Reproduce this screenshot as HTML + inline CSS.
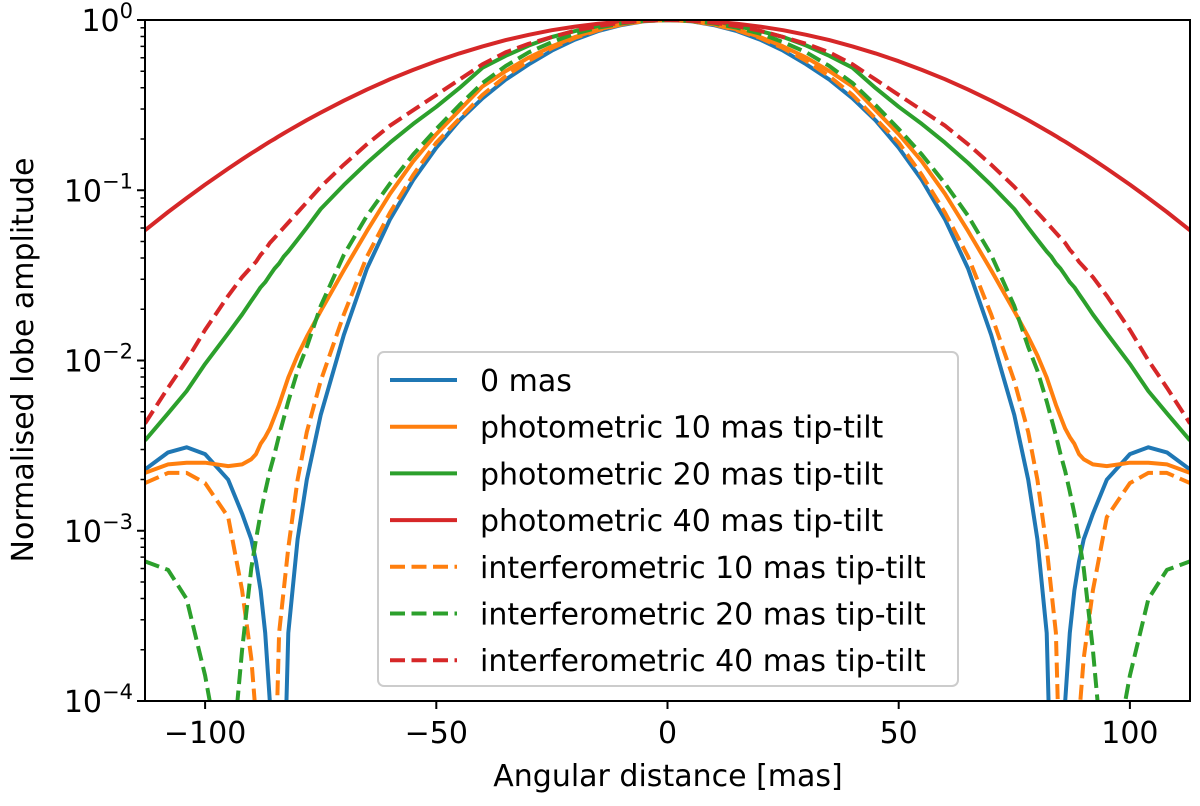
<!DOCTYPE html>
<html><head><meta charset="utf-8"><style>
body{margin:0;background:#fff;}
svg{display:block;font-family:"DejaVu Sans","Liberation Sans",sans-serif;}
</style></head><body>
<svg id="chart" width="1200" height="806"></svg>
<script>
// |x| sample positions (mas); curves are symmetric about 0
const absX = [0,5,10,15,20,25,30,35,40,45,50,55,60,65,70,75,78,80,82,83,84,85,86,87,88,89,90,92,95,100,104,108,113];
// log10 of normalised amplitude
const blue0 = [0,-0.007,-0.03,-0.065,-0.115,-0.18,-0.26,-0.35,-0.46,-0.59,-0.75,-0.94,-1.17,-1.46,-1.85,-2.32,-2.7,-3.05,-3.6,-4.6,-4.6,-4.6,-4.0,-3.6,-3.35,-3.18,-3.05,-2.9,-2.7,-2.55,-2.51,-2.54,-2.64];
const phot10 = [0,-0.006,-0.025,-0.055,-0.1,-0.155,-0.22,-0.3,-0.39,-0.53,-0.67,-0.83,-1.02,-1.24,-1.47,-1.71,-1.86,-1.97,-2.1,-2.18,-2.26,-2.33,-2.4,-2.45,-2.49,-2.55,-2.58,-2.61,-2.62,-2.6,-2.6,-2.61,-2.66];
const phot20 = [0,-0.004,-0.016,-0.036,-0.065,-0.1,-0.15,-0.21,-0.28,-0.4,-0.51,-0.61,-0.72,-0.84,-0.97,-1.11,-1.22,-1.29,-1.36,-1.39,-1.43,-1.46,-1.5,-1.54,-1.57,-1.61,-1.65,-1.73,-1.84,-2.02,-2.18,-2.31,-2.47];
const phot40 = [0,-0.0024,-0.0097,-0.022,-0.039,-0.06,-0.087,-0.118,-0.155,-0.196,-0.242,-0.293,-0.348,-0.409,-0.474,-0.544,-0.588,-0.619,-0.65,-0.666,-0.682,-0.699,-0.715,-0.732,-0.749,-0.766,-0.783,-0.818,-0.873,-0.967,-1.046,-1.128,-1.235];
const intf10 = [0,-0.006,-0.027,-0.06,-0.105,-0.165,-0.24,-0.33,-0.44,-0.58,-0.72,-0.91,-1.13,-1.39,-1.73,-2.12,-2.42,-2.7,-3.1,-3.35,-3.6,-4.6,-4.6,-4.6,-4.6,-4.1,-3.75,-3.35,-2.92,-2.72,-2.66,-2.66,-2.72];
const intf20 = [0,-0.005,-0.02,-0.045,-0.08,-0.13,-0.19,-0.27,-0.37,-0.5,-0.64,-0.79,-0.96,-1.15,-1.38,-1.68,-1.92,-2.06,-2.24,-2.34,-2.44,-2.55,-2.65,-2.77,-2.9,-3.05,-3.22,-3.7,-4.6,-3.85,-3.4,-3.23,-3.18];
const intf40 = [0,-0.004,-0.016,-0.036,-0.063,-0.1,-0.14,-0.19,-0.26,-0.35,-0.44,-0.53,-0.62,-0.73,-0.85,-0.98,-1.07,-1.13,-1.19,-1.22,-1.25,-1.28,-1.31,-1.35,-1.38,-1.42,-1.45,-1.51,-1.62,-1.82,-2.0,-2.16,-2.37];
const xTicks = [-100,-50,0,50,100];
const yTicks = [0,-1,-2,-3,-4];
const legendLabels = ["0 mas","photometric 10 mas tip-tilt","photometric 20 mas tip-tilt","photometric 40 mas tip-tilt","interferometric 10 mas tip-tilt","interferometric 20 mas tip-tilt","interferometric 40 mas tip-tilt"];

const NS="http://www.w3.org/2000/svg";
const svg=document.getElementById('chart');
const L=145,R=1190,T=20,B=701,XMIN=-113,XMAX=113;
const FS=30;
const sx=v=>L+(v-XMIN)/(XMAX-XMIN)*(R-L);
const sy=v=>T+(0-v)/4*(B-T);
function mk(tag,attrs,parent){const e=document.createElementNS(NS,tag);for(const k in attrs)e.setAttribute(k,attrs[k]);(parent||svg).appendChild(e);return e;}

const defs=mk('defs',{});
const cp=mk('clipPath',{id:'clip'},defs);
mk('rect',{x:L,y:T,width:R-L,height:B-T},cp);

const series=[
 {d:blue0,c:'#1f77b4',dash:null,n:'series-0-mas'},
 {d:phot10,c:'#ff7f0e',dash:null,n:'series-photometric-10'},
 {d:phot20,c:'#2ca02c',dash:null,n:'series-photometric-20'},
 {d:phot40,c:'#d62728',dash:null,n:'series-photometric-40'},
 {d:intf10,c:'#ff7f0e',dash:'15,6.5',n:'series-interferometric-10'},
 {d:intf20,c:'#2ca02c',dash:'15,6.5',n:'series-interferometric-20'},
 {d:intf40,c:'#d62728',dash:'15,6.5',n:'series-interferometric-40'}
];
const g=mk('g',{'clip-path':'url(#clip)'});


series.forEach(s=>{
  const pts=[];
  for(let i=absX.length-1;i>=0;i--)pts.push([-absX[i],s.d[i]]);
  for(let i=1;i<absX.length;i++)pts.push([absX[i],s.d[i]]);
  const d=pts.map((p,i)=>(i?'L':'M')+sx(p[0]).toFixed(1)+','+sy(p[1]).toFixed(1)).join('');
  const p=mk('path',{d:d,fill:'none',stroke:s.c,'stroke-width':4,'stroke-linejoin':'round'},g);
  if(s.dash)p.setAttribute('stroke-dasharray',s.dash);
  
  
});

const fr=mk('rect',{x:L,y:T,width:R-L,height:B-T,fill:'none',stroke:'#000','stroke-width':2});



xTicks.forEach(v=>{
  const x=sx(v);
  const t=mk('line',{x1:x,x2:x,y1:B,y2:B+8,stroke:'#000','stroke-width':2});
  
  
  const tx=mk('text',{x:x,y:B+42,'text-anchor':'middle','font-size':FS});
  tx.textContent=v<0?'\u2212'+Math.abs(v):String(v);
  
  
});
yTicks.forEach(v=>{
  const y=sy(v);
  const t=mk('line',{x1:L-8,x2:L,y1:y,y2:y,stroke:'#000','stroke-width':2});
  
  
  const tx=mk('text',{x:L-12,y:y+11,'text-anchor':'end','font-size':FS});
  tx.innerHTML='10<tspan dy="-13" font-size="21">'+(v<0?'\u2212'+Math.abs(v):v)+'</tspan>';
  
  
  if(v>-4){for(let k=2;k<=9;k++){const yy=sy(v-1+Math.log10(k));
    const m=mk('line',{x1:L-4.5,x2:L,y1:yy,y2:yy,stroke:'#000','stroke-width':1.5});
    
    }}
});
const xt=mk('text',{x:668,y:786,'text-anchor':'middle','font-size':FS});
xt.textContent='Angular distance [mas]';


const yt=mk('text',{x:0,y:0,'text-anchor':'middle','font-size':FS,transform:'translate(33,360) rotate(-90)'});
yt.textContent='Normalised lobe amplitude';



const lg=mk('g',{});


mk('rect',{x:378,y:352,width:580,height:334,rx:6,fill:'#fff','fill-opacity':0.85,stroke:'#ccc','stroke-width':2},lg);
legendLabels.forEach((lab,i)=>{
  const y=380+i*46.7;
  const s=series[i];
  const ln=mk('line',{x1:390,x2:457,y1:y,y2:y,stroke:s.c,'stroke-width':4},lg);
  if(s.dash)ln.setAttribute('stroke-dasharray','15,6.5');
  
  
  const tx=mk('text',{x:480,y:y+11,'font-size':FS},lg);
  tx.textContent=lab;
  
  
});
</script>
</body></html>
